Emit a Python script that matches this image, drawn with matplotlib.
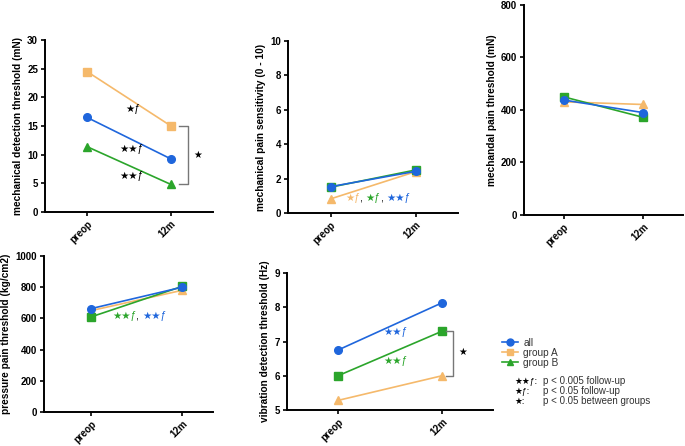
import matplotlib
matplotlib.use("Agg")
import matplotlib.pyplot as plt
from matplotlib.lines import Line2D

plt.rcParams['font.family'] = ['Liberation Sans', 'DejaVu Sans']

timepoints = ["preop", "12m"]

BLUE = "#1f66dc"
ORANGE = "#f5b96b"
GREEN = "#2ba52b"

# Panel 1: mechanical detection threshold
mdt_all = [16.5, 9.25]
mdt_A = [24.5, 15.0]
mdt_B = [11.4, 4.8]

# Panel 2: mechanical pain sensitivity
mps_all = [1.53, 2.42]
mps_A = [0.82, 2.40]
mps_B = [1.50, 2.50]

# Panel 3: mechanical pain threshold
mpt_all = [438, 390]
mpt_A = [431, 421]
mpt_B = [450, 372]

# Panel 4: pressure pain threshold
ppt_all = [663, 800]
ppt_A = [650, 780]
ppt_B = [610, 805]

# Panel 5: vibration detection threshold
vdt_all = [6.75, 8.13]
vdt_A = [5.28, 6.0]
vdt_B = [6.0, 7.3]

fig = plt.figure(figsize=(6.85, 4.46), dpi=100)
W, H = 685, 446


def make_ax(l, r, t, b):
    return fig.add_axes([l / W, (H - b) / H, (r - l) / W, (b - t) / H])


def style(ax, ylabel, ylim, yticks, xlim=(-0.5, 1.5)):
    ax.set_xlim(*xlim)
    ax.set_ylim(*ylim)
    ax.set_yticks(yticks)
    ax.set_xticks(range(len(timepoints)))
    ax.set_xticklabels(timepoints, rotation=45, ha='right', rotation_mode='anchor',
                       fontsize=7, fontweight='bold')
    for lab in ax.get_yticklabels():
        lab.set_fontsize(7)
        lab.set_fontweight('bold')
    for s in ['top', 'right']:
        ax.spines[s].set_visible(False)
    for s in ['left', 'bottom']:
        ax.spines[s].set_linewidth(1.4)
    ax.tick_params(width=1.2, length=3, pad=2)
    ax.set_ylabel(ylabel, fontsize=7.3, fontweight='bold', labelpad=3)


def series(ax, vals, color, marker, z=2):
    ax.plot(range(len(vals)), vals, color=color, marker=marker, markersize=5.5,
            linewidth=1.2, zorder=z, clip_on=False)


def sig_text(ax, x, y, parts, fs=7.5):
    prev = None
    for txt, col in parts:
        if prev is None:
            prev = ax.text(x, y, txt, color=col, fontsize=fs, ha='left', va='center')
        else:
            prev = ax.annotate(txt, xy=(1, 0), xycoords=prev, color=col, fontsize=fs,
                               ha='left', va='bottom')


def bracket(ax, x0, x1, y0, y1):
    ax.plot([x0, x1, x1, x0], [y0, y0, y1, y1], color='#777777', linewidth=1.0,
            clip_on=False)


# Panel 1
ax1 = make_ax(45, 213, 40, 212)
series(ax1, mdt_A, ORANGE, 's')
series(ax1, mdt_all, BLUE, 'o')
series(ax1, mdt_B, GREEN, '^')
style(ax1, 'mechanical detection threshold (mN)', (0, 30), range(0, 31, 5))
sig_text(ax1, 0.46, 18.0, [("★ƒ", 'black')])
sig_text(ax1, 0.38, 11.0, [("★★ƒ", 'black')])
sig_text(ax1, 0.38, 6.2, [("★★ƒ", 'black')])
bracket(ax1, 1.1, 1.2, 15.0, 4.8)
ax1.text(1.27, 10.0, "★", fontsize=7, ha='left', va='center')

# Panel 2
ax2 = make_ax(288, 458, 41, 213)
series(ax2, mps_A, ORANGE, '^')
series(ax2, mps_B, GREEN, 's')
series(ax2, mps_all, BLUE, 'o')
style(ax2, 'mechanical pain sensitivity (0 - 10)', (0, 10), range(0, 11, 2))
sig_text(ax2, 0.17, 0.85, [("★ƒ", ORANGE), (", ", 'black'), ("★ƒ", GREEN),
                           (", ", 'black'), ("★★ƒ", BLUE)])

# Panel 3
ax3 = make_ax(524, 683, 5, 215)
series(ax3, mpt_A, ORANGE, '^')
series(ax3, mpt_B, GREEN, 's')
series(ax3, mpt_all, BLUE, 'o')
style(ax3, 'mechandal pain threshold (mN)', (0, 800), range(0, 801, 200))

# Panel 4
ax4 = make_ax(44, 213, 256, 412)
series(ax4, ppt_A, ORANGE, '^')
series(ax4, ppt_B, GREEN, 's')
series(ax4, ppt_all, BLUE, 'o')
style(ax4, 'pressure pain threshold (kg/cm2)', (0, 1000), range(0, 1001, 200),
      xlim=(-0.52, 1.34))
sig_text(ax4, 0.23, 615, [("★★ƒ", GREEN), (", ", 'black'), ("★★ƒ", BLUE)])

# Panel 5
ax5 = make_ax(287, 493, 273, 410)
series(ax5, vdt_A, ORANGE, '^')
series(ax5, vdt_B, GREEN, 's')
series(ax5, vdt_all, BLUE, 'o')
style(ax5, 'vibration detection threshold (Hz)', (5, 9), range(5, 10),
      xlim=(-0.49, 1.49))
sig_text(ax5, 0.44, 7.28, [("★★ƒ", BLUE)])
sig_text(ax5, 0.44, 6.42, [("★★ƒ", GREEN)])
bracket(ax5, 1.04, 1.11, 7.3, 6.0)
ax5.text(1.16, 6.7, "★", fontsize=7, ha='left', va='center')

# Legend
handles = [
    Line2D([0], [0], color=BLUE, marker='o', markersize=5, linewidth=1.2, label='all'),
    Line2D([0], [0], color=ORANGE, marker='s', markersize=5, linewidth=1.2, label='group A'),
    Line2D([0], [0], color=GREEN, marker='^', markersize=5, linewidth=1.2, label='group B'),
]
fig.legend(handles=handles, loc='upper left', bbox_to_anchor=(502 / W, 1 - 338 / H),
           frameon=False, fontsize=7.3, handlelength=1.6, handletextpad=0.5,
           labelspacing=0.0, borderaxespad=0, borderpad=0, labelcolor='#333333')

notes = [
    ("★★ƒ:", "p < 0.005 follow-up"),
    ("★ƒ:", "p < 0.05 follow-up"),
    ("★:", "p < 0.05 between groups"),
]
for i, (sym, desc) in enumerate(notes):
    y = 1 - (381 + i * 10) / H
    fig.text(514 / W, y, sym, fontsize=6.3, ha='left', va='center')
    fig.text(543 / W, y, desc, fontsize=7, ha='left', va='center', color='#333333')

fig.savefig('out.png', dpi=100)
